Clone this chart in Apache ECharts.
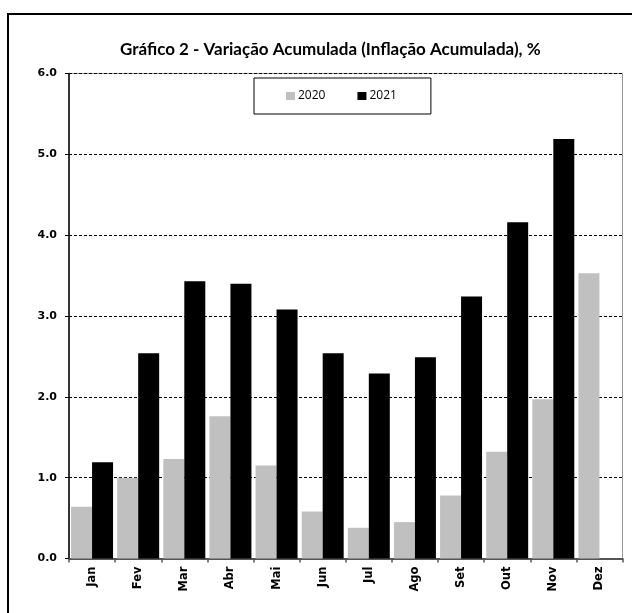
<!DOCTYPE html>
<html>
<head>
<meta charset="utf-8">
<script src="https://cdn.jsdelivr.net/npm/echarts@6/dist/echarts.min.js"></script>
<style>
html,body{margin:0;padding:0;background:#fff;}
#chart{width:632px;height:613px;}
</style>
</head>
<body>
<div id="chart"></div>
<script>
const categories = ['Jan','Fev','Mar','Abr','Mai','Jun','Jul','Ago','Set','Out','Nov','Dez'];
const values2020 = [0.64, 1.00, 1.23, 1.76, 1.15, 0.58, 0.38, 0.45, 0.78, 1.32, 1.97, 3.53];
const values2021 = [1.19, 2.54, 3.43, 3.40, 3.08, 2.54, 2.29, 2.49, 3.24, 4.16, 5.19, null];
const yTicks = [0, 1, 2, 3, 4, 5, 6];

const chart = echarts.init(document.getElementById('chart'), null, {renderer: 'canvas'});
chart.setOption({
  animation: false,
  backgroundColor: '#fff',
  title: {
    text: 'Gráfico 2 - Variação Acumulada (Inflação Acumulada), %',
    left: 115,
    top: 36,
    textStyle: {fontFamily: 'Lato', fontWeight: 'bold', fontSize: 17, color: '#000'}
  },
  graphic: [{
    type: 'rect',
    shape: {x: 8, y: 14, width: 640, height: 620},
    style: {fill: 'none', stroke: '#000', lineWidth: 2},
    silent: true, z: 0
  }],
  legend: {
    left: 254, top: 78,
    padding: [12, 34, 12, 32],
    itemWidth: 9, itemHeight: 8, itemGap: 32,
    icon: 'rect',
    borderColor: '#000', borderWidth: 1,
    textStyle: {fontFamily: 'Open Sans', fontSize: 12, color: '#000', padding: [0,0,0,-2]},
    data: ['2020', '2021']
  },
  grid: {
    left: 69, right: 9.5, top: 73.5, bottom: 54.5,
    show: true, borderColor: '#999', borderWidth: 1, containLabel: false
  },
  xAxis: {
    type: 'category',
    data: categories,
    axisLine: {lineStyle: {color: '#555', width: 2}},
    axisTick: {show: true, alignWithLabel: false, length: 4, lineStyle: {color: '#555', width: 1.5}},
    axisLabel: {rotate: 90, margin: 8, fontFamily: 'DejaVu Sans', fontWeight: 'bold', fontSize: 11.5, color: '#000', interval: 0}
  },
  yAxis: {
    type: 'value',
    min: yTicks[0], max: yTicks[yTicks.length - 1], interval: 1,
    axisLine: {show: true, lineStyle: {color: '#000', width: 1.5}},
    axisTick: {show: true, length: 4, lineStyle: {color: '#000'}},
    axisLabel: {margin: 12, fontFamily: 'DejaVu Sans', fontWeight: 'bold', fontSize: 11, color: '#000',
      formatter: v => v.toFixed(1)},
    splitLine: {show: true, lineStyle: {color: '#000', type: [3, 2], width: 1}}
  },
  series: [
    {
      name: '2020', type: 'bar', data: values2020,
      itemStyle: {color: '#c0c0c0'},
      barGap: '0%', barCategoryGap: '9%'
    },
    {
      name: '2021', type: 'bar', data: values2021,
      itemStyle: {color: '#000', borderColor: '#000', borderWidth: 0}
    }
  ]
});
</script>
</body>
</html>
